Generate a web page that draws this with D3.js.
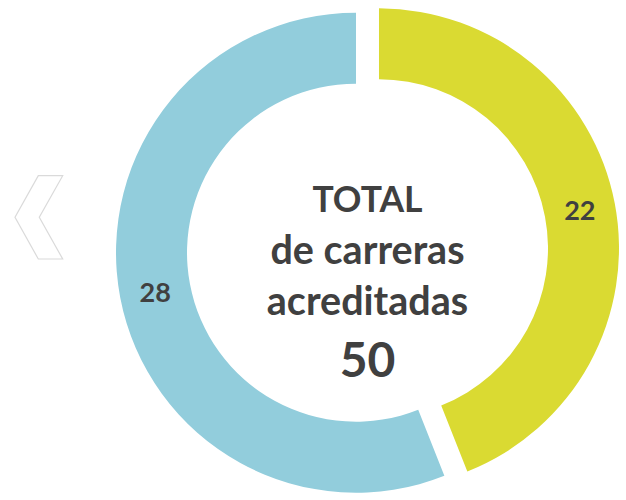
<!DOCTYPE html>
<html>
<head>
<meta charset="utf-8">
<script src="https://cdn.jsdelivr.net/npm/d3@7"></script>
<style>
  body { margin: 0; background: #fff; }
  #chart text { font-family: Lato, "Open Sans", sans-serif; font-weight: 700; fill: #404040; }
</style>
</head>
<body>
<div id="chart"></div>
<script>
const categories = ["Acreditadas A", "Acreditadas B"];
const values = [22, 28];
const colors = ["#DADA32", "#92CDDC"];
const centerLines = ["TOTAL", "de carreras", "acreditadas"];
const total = d3.sum(values);

const width = 626;
const height = 500;
const cx = 367.5, cy = 250.5;
const outerR = 240, innerR = 169;
const explode = 11.7;

const svg = d3.select("#chart")
  .append("svg")
  .attr("width", width)
  .attr("height", height)
  .attr("viewBox", [0, 0, width, height]);

// flecha de navegacion (decorativa)
svg.append("path")
  .attr("d", "M38.3,175.7 L62.7,175.7 L39.3,217.3 L62.7,259 L38.3,259 L15,217.3 Z")
  .attr("fill", "#fff")
  .attr("stroke", "#dadada")
  .attr("stroke-width", 1.2);

const pie = d3.pie().sort(null).value(d => d);
const arcs = pie(values);

const arc = d3.arc().innerRadius(innerR).outerRadius(outerR);

const offset = d => {
  const a = (d.startAngle + d.endAngle) / 2;
  return [Math.sin(a) * explode, -Math.cos(a) * explode];
};

const g = svg.append("g")
  .attr("transform", "translate(" + cx + "," + cy + ")");

const slice = g.selectAll("g.slice")
  .data(arcs)
  .join("g")
    .attr("class", "slice")
    .attr("transform", d => "translate(" + offset(d) + ")");

slice.append("path")
  .attr("d", arc)
  .attr("fill", (d, i) => colors[i]);

slice.append("text")
  .attr("transform", d => "translate(" + arc.centroid(d) + ")")
  .attr("text-anchor", "middle")
  .attr("dominant-baseline", "central")
  .attr("font-size", 27)
  .text(d => d.data);

// texto central
const baselines = [212, 264, 315];
const sizes = [35.5, 39.5, 39.5];
svg.append("g")
  .selectAll("text")
  .data(centerLines)
  .join("text")
    .attr("x", cx)
    .attr("y", (d, i) => baselines[i])
    .attr("text-anchor", "middle")
    .attr("font-size", (d, i) => sizes[i])
    .text(d => d);

svg.append("text")
  .attr("x", cx)
  .attr("y", 377)
  .attr("text-anchor", "middle")
  .attr("font-size", 48)
  .text(total);
</script>
</body>
</html>
